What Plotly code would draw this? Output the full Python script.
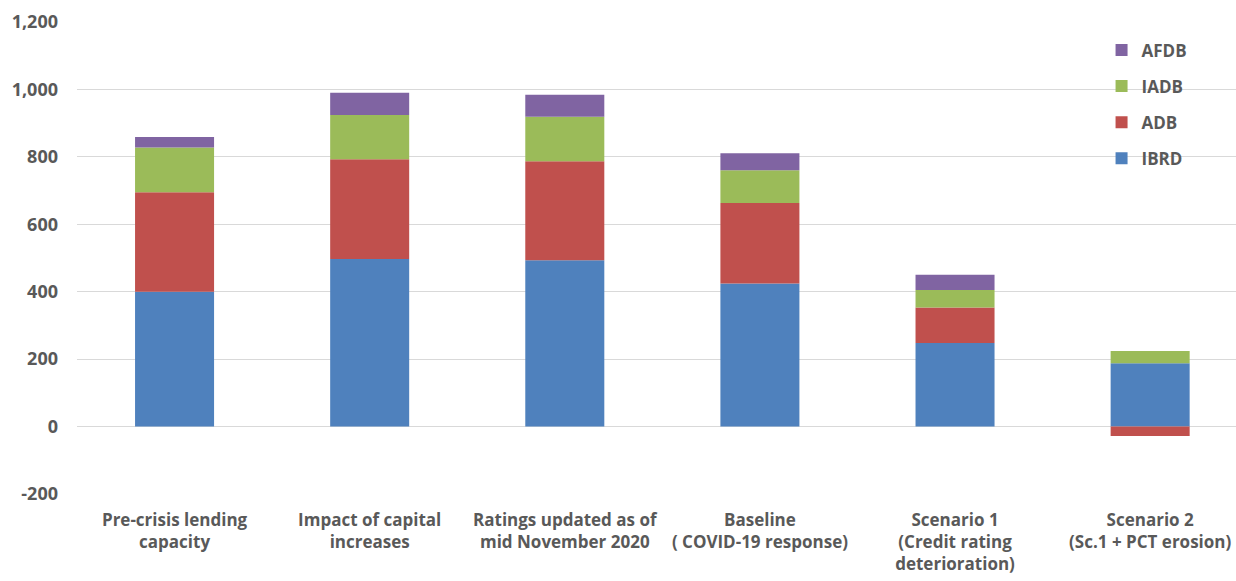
import plotly.graph_objects as go

categories = [
    "Pre-crisis lending<br>capacity",
    "Impact of capital<br>increases",
    "Ratings updated as of<br>mid November 2020",
    "Baseline<br>( COVID-19 response)",
    "Scenario 1<br>(Credit rating<br>deterioration)",
    "Scenario 2<br>(Sc.1 + PCT erosion)",
]
ibrd = [400, 497, 493, 424, 248, 188]
adb = [295, 296, 294, 239, 105, -28]
iadb = [133, 131, 132, 97, 52, 36]
afdb = [31, 66, 65, 51, 45, 0]

y_tickvals = [-200, 0, 200, 400, 600, 800, 1000, 1200]
y_ticktext = ["-200", "0", "200", "400", "600", "800", "1,000", "1,200"]

series = [
    ("IBRD", ibrd, "#4F81BD", 4),
    ("ADB", adb, "#C0504D", 3),
    ("IADB", iadb, "#9BBB59", 2),
    ("AFDB", afdb, "#8064A2", 1),
]

fig = go.Figure()
for name, vals, color, rank in series:
    fig.add_trace(go.Bar(
        x=list(range(len(categories))), y=vals, name=name,
        marker=dict(color=color, line=dict(width=0)),
        width=0.405, legendgroup=name, legendrank=rank,
    ))

font_family = "Open Sans, Liberation Sans, sans-serif"
fig.update_layout(
    barmode="relative",
    width=1236, height=581,
    margin=dict(l=77, r=0, t=22, b=87),
    plot_bgcolor="white", paper_bgcolor="white",
    font=dict(family=font_family, size=16, color="#595959"),
    showlegend=True,
    legend=dict(
        x=0.884, y=0.978, xanchor="left", yanchor="top",
        traceorder="grouped", tracegroupgap=11,
        font=dict(size=17, color="#595959", weight="bold"),
        itemwidth=30, bgcolor="rgba(0,0,0,0)",
    ),
    xaxis=dict(
        tickmode="array", tickvals=list(range(len(categories))), ticktext=categories,
        range=[-0.5, 5.44], showgrid=False, zeroline=False, showline=False,
        ticks="", ticklabelstandoff=14,
        tickfont=dict(size=17, color="#595959", weight="bold"),
    ),
    yaxis=dict(
        range=[-200, 1200], tickmode="array", tickvals=y_tickvals, ticktext=y_ticktext,
        showgrid=True, gridcolor="#d9d9d9", gridwidth=1,
        zeroline=True, zerolinecolor="#d9d9d9", zerolinewidth=1,
        showline=False, ticks="", ticklabelstandoff=18,
        tickfont=dict(size=18, color="#595959", weight="bold"),
    ),
)

fig.write_html("out.html")
